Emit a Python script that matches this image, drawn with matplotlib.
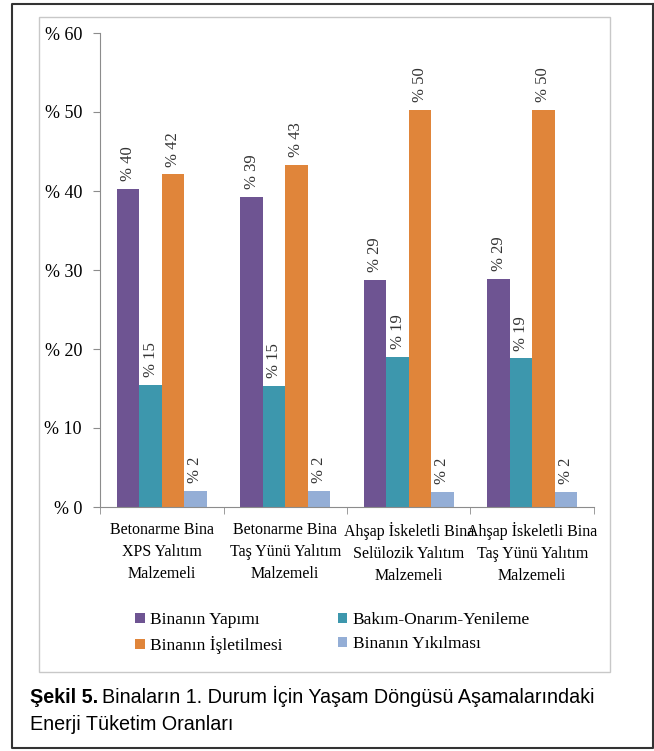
import matplotlib.pyplot as plt
import numpy as np
from matplotlib.lines import Line2D
from matplotlib.patches import Rectangle

categories = [
    "Betonarme Bina\nXPS Yalıtım\nMalzemeli",
    "Betonarme Bina\nTaş Yünü Yalıtım\nMalzemeli",
    "Ahşap İskeletli Bina\nSelülozik Yalıtım\nMalzemeli",
    "Ahşap İskeletli Bina\nTaş Yünü Yalıtım\nMalzemeli",
]
series_names = ["Binanın Yapımı", "Bakım-Onarım-Yenileme",
                "Binanın İşletilmesi", "Binanın Yıkılması"]
yapim = [40.3, 39.2, 28.7, 28.9]
bakim = [15.4, 15.3, 19.0, 18.8]
isletme = [42.1, 43.3, 50.3, 50.3]
yikim = [2.0, 2.0, 1.9, 1.9]
yticks = [0, 10, 20, 30, 40, 50, 60]

colors = ["#6e5492", "#3d97ad", "#e0853a", "#94aed6"]
serif = "Liberation Serif"
W, H = 654, 751

fig = plt.figure(figsize=(W / 100, H / 100), dpi=100)
ax = fig.add_axes([100 / W, 1 - 507 / H, 494 / W, (507 - 33) / H])

x = np.arange(len(categories))
w = 0.182
for i, vals in enumerate([yapim, bakim, isletme, yikim]):
    pos = x + (i - 1.5) * w
    ax.bar(pos, vals, w, color=colors[i], label=series_names[i])
    for p, v in zip(pos, vals):
        ax.text(p, v + 1.0, f"% {round(v):d}", rotation=90, ha="center", va="bottom",
                fontsize=12, family=serif, color="#333333")

ax.set_xlim(-0.5, len(categories) - 0.5)
ax.set_ylim(0, 60)
ax.set_yticks(yticks)
ax.set_yticklabels([f"% {t}" for t in yticks], family=serif, fontsize=13)
ax.set_xticks(x)
ax.set_xticklabels(categories, family=serif, fontsize=11.5, linespacing=1.5)
ax.set_xticks(np.arange(len(categories) + 1) - 0.5, minor=True)
ax.tick_params(axis="x", which="major", length=0, pad=11)
ax.tick_params(axis="x", which="minor", length=5, color="#8c8c8c")
ax.tick_params(axis="y", length=5, color="#8c8c8c", pad=8)
for s in ["top", "right"]:
    ax.spines[s].set_visible(False)
for s in ["left", "bottom"]:
    ax.spines[s].set_color("#8c8c8c")

handles, labels = ax.get_legend_handles_labels()
order = [0, 2, 1, 3]
fig.legend([handles[k] for k in order], [labels[k] for k in order], loc="center left",
           bbox_to_anchor=(135 / W, 1 - 633 / H), ncol=2, frameon=False,
           prop={"family": serif, "size": 12.5}, handlelength=0.55, handleheight=0.55,
           handletextpad=0.3, columnspacing=3.2, labelspacing=0.45,
           borderpad=0, borderaxespad=0)

# inner chart frame
fig.patches.append(Rectangle((39 / W, 1 - 672 / H), (610 - 39) / W, (672 - 17) / H,
                             transform=fig.transFigure, fill=False, edgecolor="#c8c8c8", lw=1))
# outer frame
ox0, ox1, oy0, oy1 = 12 / W, 653 / W, 1 - 748 / H, 1 - 4 / H
fig.lines.append(Line2D([ox1, ox0, ox0, ox1, ox1], [oy1, oy1, oy0, oy0, oy1],
                        transform=fig.transFigure, color="#333333", lw=1.5))

# caption
cap_font = "Liberation Sans"
t1 = fig.text(30 / W, 1 - 703 / H, "Şekil 5.", fontsize=14.2, weight="bold",
              family=cap_font, va="baseline")
fig.canvas.draw()
bb = t1.get_window_extent()
fig.text(bb.x1 / fig.bbox.width + 0.006, 1 - 703 / H,
         "Binaların 1. Durum İçin Yaşam Döngüsü Aşamalarındaki",
         fontsize=14.2, family=cap_font, va="baseline")
fig.text(30 / W, 1 - 730 / H, "Enerji Tüketim Oranları", fontsize=14.2,
         family=cap_font, va="baseline")

fig.savefig("out.png", dpi=100)
